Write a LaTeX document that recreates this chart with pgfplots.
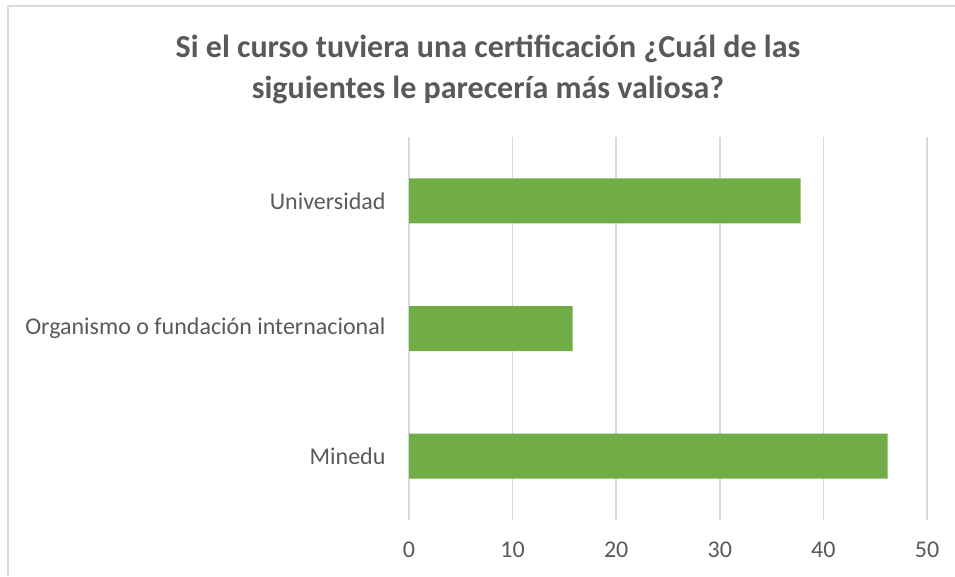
\documentclass[border=0pt]{standalone}
\usepackage{fontspec}
\setmainfont{Carlito}
\usepackage{pgfplots}
\pgfplotsset{compat=1.18}
\definecolor{bargreen}{HTML}{70AD47}
\definecolor{txtgray}{HTML}{595959}
\definecolor{gridgray}{HTML}{D9D9D9}

\begin{document}
\begin{tikzpicture}
% frame of the whole picture, 1pt = 1 px of the reference
\useasboundingbox (0,0) rectangle (955pt,576pt);
\draw[gridgray, line width=1.5pt] (8pt,0) -- (8pt,570pt) -- (955pt,570pt);
\node[txtgray, font=\fontsize{32}{41}\selectfont\bfseries, align=center]
  at (488pt,507pt) {Si el curso tuviera una certificación ¿Cuál de las\\siguientes le parecería más valiosa?};
\begin{axis}[
  at={(409pt,56pt)}, anchor=south west,
  scale only axis,
  width=518pt, height=383pt,
  xbar,
  bar width=45pt,
  xmin=0, xmax=50,
  ymin=-0.5, ymax=2.5,
  xtick={0,10,...,50},
  ytick={0,1,2},
  yticklabels={Minedu,Organismo o fundación internacional,Universidad},
  xmajorgrids,
  grid style={gridgray, line width=1.5pt},
  axis line style={draw=none},
  major tick length=0pt,
  tick label style={txtgray, font=\fontsize{24}{28}\selectfont},
  xticklabel style={yshift=-18pt},
  yticklabel style={xshift=-20pt},
  /pgf/number format/assume math mode=true,
]
\addplot[fill=bargreen, draw=none] coordinates {(46.2,0) (15.8,1) (37.8,2)};
\end{axis}
\end{tikzpicture}
\end{document}
